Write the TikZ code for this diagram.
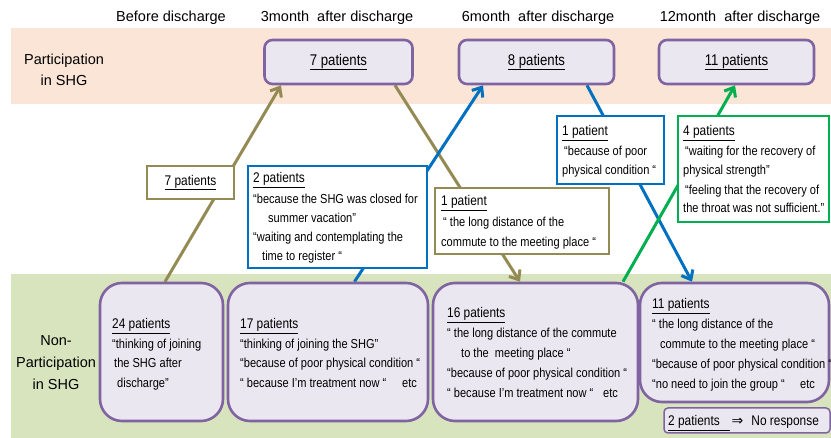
\documentclass[tikz,border=0pt]{standalone}
\usepackage{fontspec}
\setmainfont{Liberation Sans}
\newfontfamily\nf[FakeStretch=0.85]{Liberation Sans}
\newfontfamily\djv{DejaVu Sans}
\usetikzlibrary{arrows.meta,backgrounds}
\definecolor{pinkband}{HTML}{FBE5D6}
\definecolor{greenband}{HTML}{D7E4BD}
\definecolor{boxfill}{HTML}{EAE7F0}
\definecolor{boxline}{HTML}{8064A2}
\definecolor{khaki}{HTML}{948A54}
\definecolor{blueline}{HTML}{0070C0}
\definecolor{greenline}{HTML}{00B050}
\begin{document}
\begin{tikzpicture}[x=1pt,y=-1pt,
  topbox/.style={draw=boxline, fill=boxfill, line width=2.6pt, rounded corners=8pt, inner sep=0pt},
  botbox/.style={draw=boxline, fill=boxfill, line width=2.6pt, rounded corners=22pt, inner sep=0pt},
  callout/.style={fill=white, line width=2pt, inner sep=0pt},
  flow/.style={line width=3pt, -{Straight Barb[length=8pt,width=13pt]}},
  hdr/.style={font=\fontsize{14.5}{17}\selectfont, inner sep=0pt},
  side/.style={font=\fontsize{14.5}{21}\selectfont, inner sep=0pt, align=center},
  ln/.style={anchor=base west, inner sep=0pt, font=\nf\fontsize{13}{15}\selectfont},
  hd/.style={anchor=base west, inner sep=0pt, font=\nf\fontsize{14}{16}\selectfont},
]
\useasboundingbox (0,0) rectangle (831,438);
\begin{scope}[on background layer]
  \fill[pinkband] (11,28) rectangle (831,104);
  \fill[greenband] (11,274) rectangle (831,438);
\end{scope}

% headers
\node[hdr] (h0) at (171,18) {Before discharge};
\node[hdr] (h3) at (337,18) {3month\ \ after discharge};
\node[hdr] (h6) at (538,18) {6month\ \ after discharge};
\node[hdr] (h12) at (740,18) {12month\ \ after discharge};
\node[side] (sp) at (64,70) {Participation\\in SHG};
\node[side, font=\fontsize{14.5}{22}\selectfont] (snp) at (56,363) {Non-\\Participation\\in SHG};

% top boxes
\node[topbox, minimum width=148pt, minimum height=44pt] (t7) at (338.5,62) {\nf\fontsize{15.5}{18}\selectfont\underline{7 patients}};
\node[topbox, minimum width=155pt, minimum height=44pt] (t8) at (536.5,62) {\nf\fontsize{15.5}{18}\selectfont\underline{8 patients}};
\node[topbox, minimum width=155pt, minimum height=44pt] (t11) at (736.5,62) {\nf\fontsize{15.5}{18}\selectfont\underline{11 patients}};

% bottom boxes
\node[botbox, minimum width=123pt, minimum height=138pt] (b24) at (161.5,352) {};
\node[botbox, minimum width=200pt, minimum height=138pt] (b17) at (328,352) {};
\node[botbox, minimum width=205pt, minimum height=138pt] (b16) at (535.5,352) {};
\node[botbox, minimum width=189pt, minimum height=119pt] (b11) at (734.5,342.5) {};
\node[draw=boxline, fill=boxfill, line width=1.5pt, rounded corners=4pt, inner sep=0pt,
      minimum width=166pt, minimum height=25pt] (nr) at (747,420.5) {};

% arrows
\begin{scope}[on background layer]
  \draw[flow, khaki] ([xshift=3.5pt]b24.north) -- ([xshift=-57.5pt]t7.south);
  \draw[flow, khaki] ([xshift=56.5pt]t7.south) -- ([xshift=-15.5pt]b16.north);
  \draw[flow, blueline] ([xshift=26.5pt]b17.north) -- ([xshift=-53.5pt]t8.south);
  \draw[flow, blueline] ([xshift=50.5pt]t8.south) -- ([xshift=-42.5pt]b11.north);
  \draw[flow, greenline] ([xshift=87.5pt]b16.north) -- ([xshift=-1.5pt]t11.south);
\end{scope}

% callouts
\node[callout, draw=khaki, minimum width=87pt, minimum height=33pt] (c7) at (190.5,182.5) {\nf\fontsize{14}{16}\selectfont\underline{7 patients}};
\node[callout, draw=blueline, minimum width=179pt, minimum height=102pt] (c2) at (337.5,217) {};
\node[callout, draw=khaki, minimum width=174pt, minimum height=66pt] (c1k) at (522,221) {};
\node[callout, draw=blueline, minimum width=107pt, minimum height=68pt] (c1b) at (610.5,150) {};
\node[callout, draw=greenline, minimum width=151pt, minimum height=106pt] (c4) at (753.5,169) {};

% callout texts
\node[hd] (c2a) at (253,183) {\underline{2 patients}};
\node[ln] (c2b) at (253,204) {“because the SHG was closed for};
\node[ln] (c2c) at (268,223) {summer vacation”};
\node[ln] (c2d) at (253,242) {“waiting and contemplating the};
\node[ln] (c2e) at (262,261) {time to register “};

\node[hd] (c1ka) at (441,206) {\underline{1 patient}};
\node[ln] (c1kb) at (443,227) {“ the long distance of the};
\node[ln] (c1kc) at (441,247) {commute to the meeting place “};

\node[hd] (c1ba) at (562,136) {\underline{1 patient}};
\node[ln] (c1bb) at (564,156) {“because of poor};
\node[ln] (c1bc) at (562,175) {physical condition “};

\node[hd] (c4a) at (683,136) {\underline{4 patients}};
\node[ln] (c4b) at (685,156) {“waiting for the recovery of};
\node[ln] (c4c) at (683,175) {physical strength”};
\node[ln] (c4d) at (685,195) {“feeling that the recovery of};
\node[ln] (c4e) at (683,213) {the throat was not sufficient.”};

% bottom texts
\node[hd] (b24a) at (112,329) {\underline{24 patients}};
\node[ln] (b24b) at (112,349) {“thinking of joining};
\node[ln] (b24c) at (114,368) {the SHG after};
\node[ln] (b24d) at (117,388) {discharge”};

\node[hd] (b17a) at (240,329) {\underline{17 patients}};
\node[ln] (b17b) at (240,349) {“thinking of joining the SHG”};
\node[ln] (b17c) at (240,368) {“because of poor physical condition “};
\node[ln] (b17d) at (240,388) {“ because I’m treatment now “};
\node[ln] (b17e) at (402,388) {etc};

\node[hd] (b16a) at (447,318) {\underline{16 patients}};
\node[ln] (b16b) at (447,338) {“ the long distance of the commute};
\node[ln] (b16c) at (461,358) {to the\ \ meeting place “};
\node[ln] (b16d) at (447,378) {“because of poor physical condition “};
\node[ln] (b16e) at (447,398) {“ because I’m treatment now “};
\node[ln] (b16f) at (603,398) {etc};

\node[hd] (b11a) at (652,309) {\underline{11 patients}};
\node[ln] (b11b) at (652,329) {“ the long distance of the};
\node[ln] (b11c) at (660,349) {commute to the meeting place “};
\node[ln] (b11d) at (652,369) {“because of poor physical condition “};
\node[ln] (b11e) at (652,389) {“no need to join the group “};
\node[ln] (b11f) at (800,389) {etc};

\node[hd] (nrt) at (668,426) {\underline{2 patients\ \ \ }\hspace{2pt}{\djv\fontsize{14}{16}\selectfont ⇒}\hspace{8pt}No response};
\end{tikzpicture}
\end{document}
